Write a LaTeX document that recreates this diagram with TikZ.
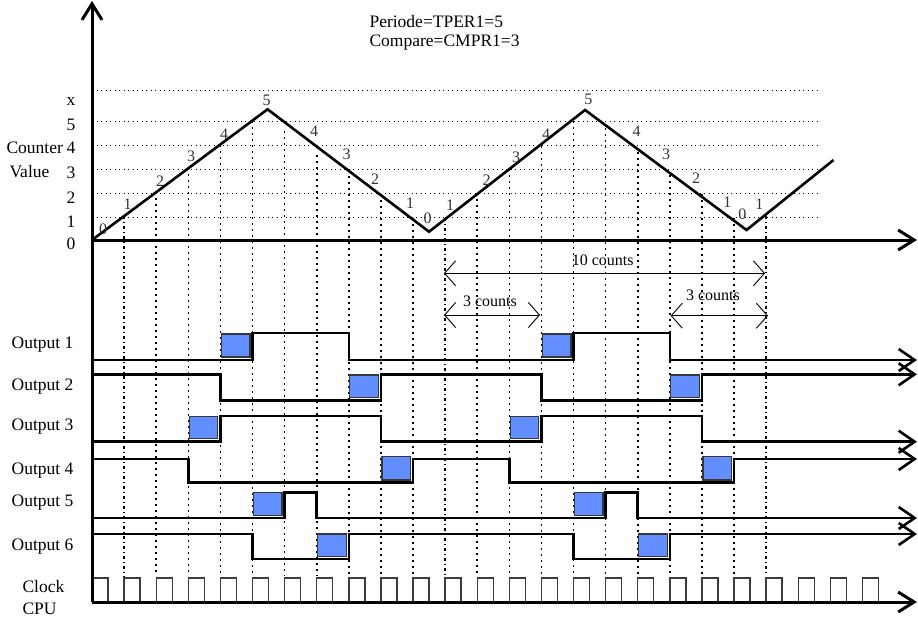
\documentclass[tikz,border=0pt]{standalone}
\usepackage{fontspec}
\setmainfont{Liberation Serif}
\usetikzlibrary{arrows.meta}
\definecolor{deadblue}{RGB}{98,142,255}
\definecolor{deadedge}{RGB}{55,55,55}
\definecolor{clkgray}{RGB}{60,60,60}

\begin{document}
\begin{tikzpicture}[x=1pt,y=-1pt,font=\fontsize{17.5}{20}\selectfont,
  axis/.style={line width=3pt,-{Straight Barb[length=16pt,width=20pt]}},
  wave/.style={line width=2.6pt,line join=miter},
  sig/.style={line width=2.6pt,-{Straight Barb[length=16pt,width=22pt]}},
  hgrid/.style={line width=1pt,dash pattern=on 1.2pt off 3.3pt},
  vgrid/.style={line width=1.6pt,dash pattern=on 2pt off 4pt},
  vmark/.style={line width=1.8pt,dash pattern=on 3pt off 3pt on 1pt off 3pt},
  dead/.style={fill=deadblue,draw=deadedge,line width=1.3pt},
  clk/.style={clkgray,line width=1.4pt},
  span/.style={line width=0.9pt,{Straight Barb[length=11pt,width=25pt]}-{Straight Barb[length=11pt,width=25pt]}},
  cnt/.style={font=\fontsize{16}{18}\selectfont,text=black!80,inner sep=0pt}]
  \useasboundingbox (0,0) rectangle (918,619);

  % headings
  \node[anchor=west] (per) at (366,21.7) {Periode=TPER1=5};
  \node[anchor=west] (cmp) at (366,42.7) {Compare=CMPR1=3};

  % left-hand labels
  \node[anchor=west] (cv1) at (3,148) {Counter};
  \node[anchor=west] (cv2) at (6,172) {Value};
  \foreach \v/\y in {0/244,1/221.7,2/197.7,3/172.7,4/148,5/125,x/101.7}
    \node (t\v) at (71,\y) {\v};
  \foreach \i/\y in {1/345,2/386.7,3/427,4/470.7,5/503,6/546.7}
    \node[anchor=east] (o\i) at (77,\y) {Output \i};
  \node[anchor=west] (clk) at (19,587) {Clock};
  \node[anchor=west] (cpu) at (19,608.5) {CPU};

  \begin{scope}[xshift=92pt,x=32.1pt]
    % grid
    \foreach \y in {90,121,145,169.3,193.3,217}
      \draw[hgrid] (0,\y) -- (22.6,\y);
    \foreach \k/\y in {2/192,3/168,4/145,5/121,6/131,7/155,8/170,9/194,10/218,
                       12/193,13/169,14/146,15/121,16/128,17/152,18/175,19/194,20/218}
      \draw[vgrid] (\k,\y) -- (\k,576);
    \draw[vmark] (1,216) -- (1,602);
    \draw[vmark] (11,218) -- (11,576);
    \draw[vmark] (21,216) -- (21,576);

    % counter value, up-down mode
    \draw[wave] (0,240) -- (5.47,109.3) -- (10.5,231.7) -- (15.36,110)
      -- (20.39,230) -- (23.1,160);

    % CPU clock
    \foreach \k in {0,...,24}
      \draw[clk] (\k,602) -- (\k,578) -- (\k+0.5,578) -- (\k+0.5,602);

    % axes
    \draw[axis] (0,602) -- (0,1);
    \draw[axis] (0,240) -- (25.7,240);
    \draw[axis] (0,602) -- (25.7,602);

    % outputs
    \draw[sig] (0,360) -| (5,333) -| (8,360) -| (15,333) -| (18,360) -- (25.7,360);
    \draw[sig] (0,374.3) -| (4,400.7) -| (9,374.3) -| (14,400.7) -| (19,374.3) -- (25.7,374.3);
    \draw[sig] (0,441.7) -| (4,416) -| (9,441.7) -| (14,416) -| (19,441.7) -- (25.7,441.7);
    \draw[sig] (0,459) -| (3,482.3) -| (10,459) -| (13,482.3) -| (20,459) -- (25.7,459);
    \draw[sig] (0,518) -| (6,492.5) -| (7,518) -| (16,492.5) -| (17,518) -- (25.7,518);
    \draw[sig] (0,534) -| (5,559) -| (8,534) -| (15,559) -| (18,534) -- (25.7,534);

    % dead bands
    \foreach \k/\t/\b in {4/334/357,14/334/357,8/375/397.5,18/375/397.5,
                          3/416.7/438.5,13/416.7/438.5,9/456.7/480,19/456.7/480,
                          5/492.7/515.7,15/492.7/515.7,7/534/556.7,17/534/556.7}
      \draw[dead] (\k+0.03,\t) rectangle (\k+0.92,\b);
  \end{scope}

  % counter steps
  \foreach \v/\x/\y [count=\i] in {0/103/229,1/127.7/204,2/160/181,3/191/156.7,4/224/134,
      5/266.7/100.7,4/314/131,3/346.7/154,2/375/179,1/410/203,0/427.7/218,
      1/450/205.5,2/486.7/180,3/516/157.7,4/546/134.3,5/588.3/99,4/636.7/131.7,
      3/666/154.3,2/696/178.3,1/727.3/202.7,0/742.3/214.3,1/759.3/204.3}
    \node[cnt] (d\i) at (\x,\y) {\v};

  % count spans
  \coordinate (tenL) at (444,273.3);
  \coordinate (tenR) at (765,273.3);
  \coordinate (thrL) at (444,315);
  \coordinate (thrR) at (540,315);
  \coordinate (cmpL) at (670.7,315.7);
  \coordinate (cmpR) at (768,315.7);
  \draw[span] (tenL) -- (tenR);
  \draw[span] (thrL) -- (thrR);
  \draw[span] (cmpL) -- (cmpR);
  \node[cnt,text=black] (ten) at (602.7,260) {10 counts};
  \node[cnt,text=black] (thr) at (490,301.7) {3 counts};
  \node[cnt,text=black] (cmpc) at (713,295) {3 counts};
\end{tikzpicture}
\end{document}
